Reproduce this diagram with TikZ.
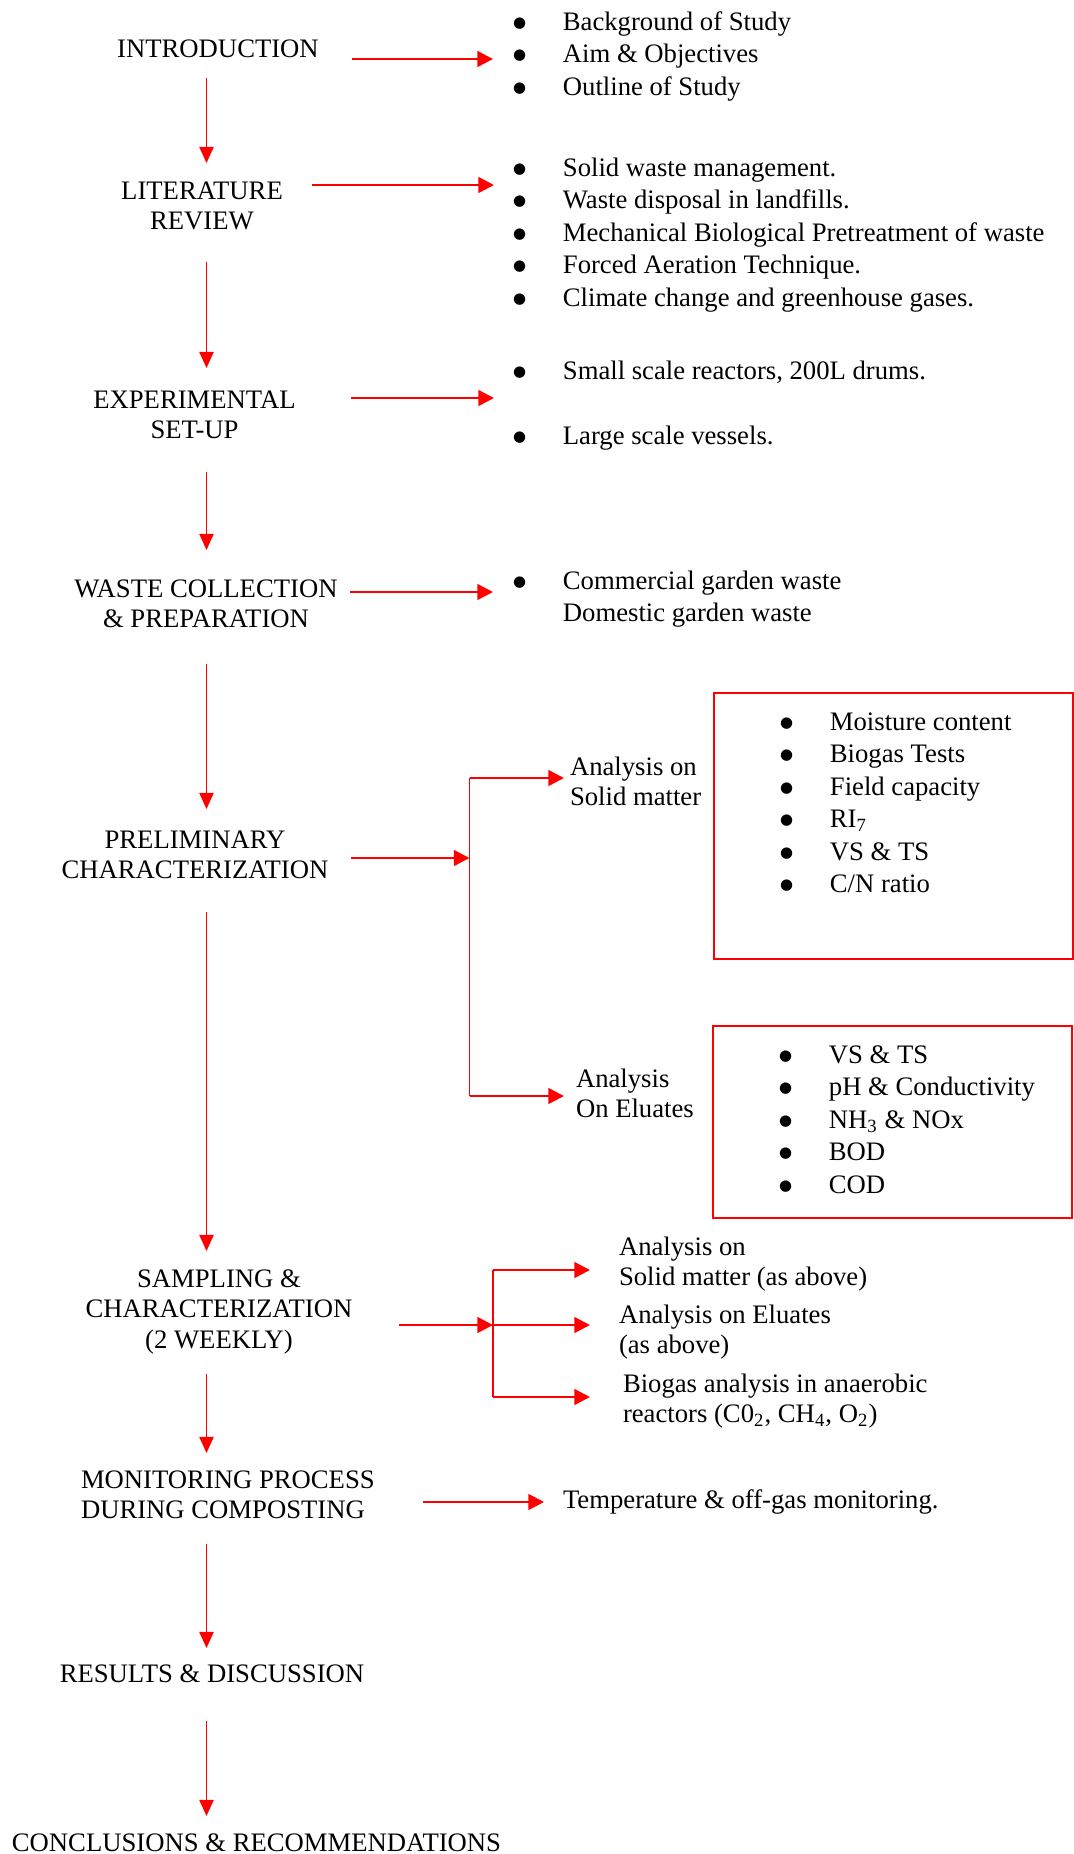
\documentclass[tikz,border=0pt]{standalone}
\usepackage{fontspec}
\setmainfont{Liberation Serif}
\newfontfamily\bulfont{DejaVu Sans}
\usetikzlibrary{arrows.meta}
\definecolor{flowred}{RGB}{255,0,0}
\newcommand{\hdc}[1]{\begin{tabular}[t]{@{}c@{}}#1\end{tabular}}
\newcommand{\hdl}[1]{\begin{tabular}[t]{@{}l@{}}#1\end{tabular}}
\newcommand{\bigbul}{\hspace{-1.2pt}\raisebox{1.3pt}{\bulfont\fontsize{6.5}{7}\selectfont ●}}
\newcommand{\bl}[1]{\makebox[20.4pt][l]{\bigbul}#1}
\newcommand{\nb}[1]{\makebox[20.4pt][l]{}#1}
\tikzset{
  every node/.style={inner sep=0pt, outer sep=0pt},
  hd/.style={anchor=base, font=\fontsize{11.6}{13.26}\selectfont},
  hdw/.style={anchor=base west, font=\fontsize{11.6}{13.26}\selectfont},
  lst/.style={anchor=base west, font=\fontsize{11.6}{14.13}\selectfont},
  lbl/.style={anchor=base west, font=\fontsize{11.6}{13.26}\selectfont},
  vline/.style={draw=flowred, line width=0.6pt, -{Triangle[length=7pt,width=6.2pt]}},
  hline/.style={draw=flowred, line width=1.1pt, -{Triangle[length=6.8pt,width=6.8pt]}},
  branchline/.style={draw=flowred, line width=0.7pt},
  redbox/.style={draw=flowred, line width=0.9pt, anchor=north west},
}
\begin{document}
\begin{tikzpicture}[x=0.4348pt, y=-0.4348pt]
\useasboundingbox (0,0) rectangle (1074,1854);

% main column
\node[hd] (intro) at (218,57) {INTRODUCTION};
\node[hd] (lit) at (202,199) {\hdc{LITERATURE\\REVIEW}};
\node[hd] (exp) at (194.5,408) {\hdc{EXPERIMENTAL\\SET-UP}};
\node[hd] (waste) at (206,597) {\hdc{WASTE COLLECTION\\\& PREPARATION}};
\node[hd] (prelim) at (195,848) {\hdc{PRELIMINARY\\CHARACTERIZATION}};
\node[hd] (samp) at (219,1287) {\hdc{SAMPLING \&\\CHARACTERIZATION\\(2 WEEKLY)}};
\node[hdw] (mon) at (81,1488) {\hdl{MONITORING PROCESS\\DURING COMPOSTING}};
\node[hd] (res) at (212,1682) {RESULTS \& DISCUSSION};
\node[hd] (concl) at (256.5,1851) {CONCLUSIONS \& RECOMMENDATIONS};

% bullet lists
\node[lst] (introlist) at (516,30) {\hdl{\bl{Background of Study}\\\bl{Aim \& Objectives}\\\bl{Outline of Study}}};
\node[lst] (litlist) at (516,176) {\hdl{\bl{Solid waste management.}\\\bl{Waste disposal in landfills.}\\\bl{Mechanical Biological Pretreatment of waste}\\\bl{Forced Aeration Technique.}\\\bl{Climate change and greenhouse gases.}}};
\node[lst] (explist) at (516,379) {\hdl{\bl{Small scale reactors, 200L drums.}\\ \\\bl{Large scale vessels.}}};
\node[lst] (wastelist) at (516,589) {\hdl{\bl{Commercial garden waste}\\\nb{Domestic garden waste}}};

% boxes
\node[redbox, minimum width=156.1pt, minimum height=115.7pt] (solidbox) at (714,693) {};
\node[redbox, minimum width=156.1pt, minimum height=83.5pt] (eluatebox) at (713,1026) {};
\node[lst] (solidlist) at (783,730) {\hdl{\bl{Moisture content}\\\bl{Biogas Tests}\\\bl{Field capacity}\\\bl{RI\textsubscript{7}}\\\bl{VS \& TS}\\\bl{C/N ratio}}};
\node[lst] (eluatelist) at (782,1063) {\hdl{\bl{VS \& TS}\\\bl{pH \& Conductivity}\\\bl{NH\textsubscript{3} \& NOx}\\\bl{BOD}\\\bl{COD}}};

% branch labels
\node[lbl] (solidA) at (570,775) {\hdl{Analysis on\\Solid matter}};
\node[lbl] (eluA) at (576,1087) {\hdl{Analysis\\On Eluates}};
\node[lbl] (solidB) at (619,1255) {\hdl{Analysis on\\Solid matter (as above)}};
\node[lbl] (eluB) at (619,1323) {\hdl{Analysis on Eluates\\(as above)}};
\node[lbl] (biogas) at (623,1392) {\hdl{Biogas analysis in anaerobic\\reactors (C0\textsubscript{2}, CH\textsubscript{4}, O\textsubscript{2})}};
\node[lbl] (temp) at (563,1508) {Temperature \& off-gas monitoring.};

% coordinates for connectors
\coordinate (v1a) at (206.5,78);   \coordinate (v1b) at (206.5,163);
\coordinate (v2a) at (206.5,262);  \coordinate (v2b) at (206.5,368);
\coordinate (v3a) at (206.5,472);  \coordinate (v3b) at (206.5,550);
\coordinate (v4a) at (206.5,664);  \coordinate (v4b) at (206.5,809);
\coordinate (v5a) at (206.5,912);  \coordinate (v5b) at (206.5,1251);
\coordinate (v6a) at (206.5,1374); \coordinate (v6b) at (206.5,1453);
\coordinate (v7a) at (206.5,1544); \coordinate (v7b) at (206.5,1648);
\coordinate (v8a) at (206.5,1721); \coordinate (v8b) at (206.5,1816);

\coordinate (h1a) at (352,59);  \coordinate (h1b) at (493,59);
\coordinate (h2a) at (312,185); \coordinate (h2b) at (494,185);
\coordinate (h3a) at (351,398); \coordinate (h3b) at (494,398);
\coordinate (h4a) at (350,592); \coordinate (h4b) at (493,592);
\coordinate (h5a) at (351,858); \coordinate (h5b) at (469.5,858);
\coordinate (brA1) at (469.5,778); \coordinate (brA2) at (469.5,1096);
\coordinate (h6b) at (564,778); \coordinate (h7b) at (564,1096);
\coordinate (h8a) at (399,1325); \coordinate (h8b) at (493,1325);
\coordinate (brB1) at (493,1270); \coordinate (brB3) at (493,1397);
\coordinate (h9b) at (590,1270); \coordinate (h10b) at (590,1325); \coordinate (h11b) at (590,1397);
\coordinate (h12a) at (423,1502); \coordinate (h12b) at (544,1502);

% vertical arrows
\foreach \n in {1,...,8} { \draw[vline] (v\n a) -- (v\n b); }

% horizontal arrows
\draw[hline] (h1a) -- (h1b);
\draw[hline] (h2a) -- (h2b);
\draw[hline] (h3a) -- (h3b);
\draw[hline] (h4a) -- (h4b);
\draw[hline] (h5a) -- (h5b);
\draw[branchline] (brA1) -- (brA2);
\draw[hline] (brA1) -- (h6b);
\draw[hline] (brA2) -- (h7b);
\draw[hline] (h8a) -- (h8b);
\draw[branchline, line width=0.9pt] (brB1) -- (brB3);
\draw[hline] (brB1) -- (h9b);
\draw[hline] (h8b) -- (h10b);
\draw[hline] (brB3) -- (h11b);
\draw[hline] (h12a) -- (h12b);
\end{tikzpicture}
\end{document}
